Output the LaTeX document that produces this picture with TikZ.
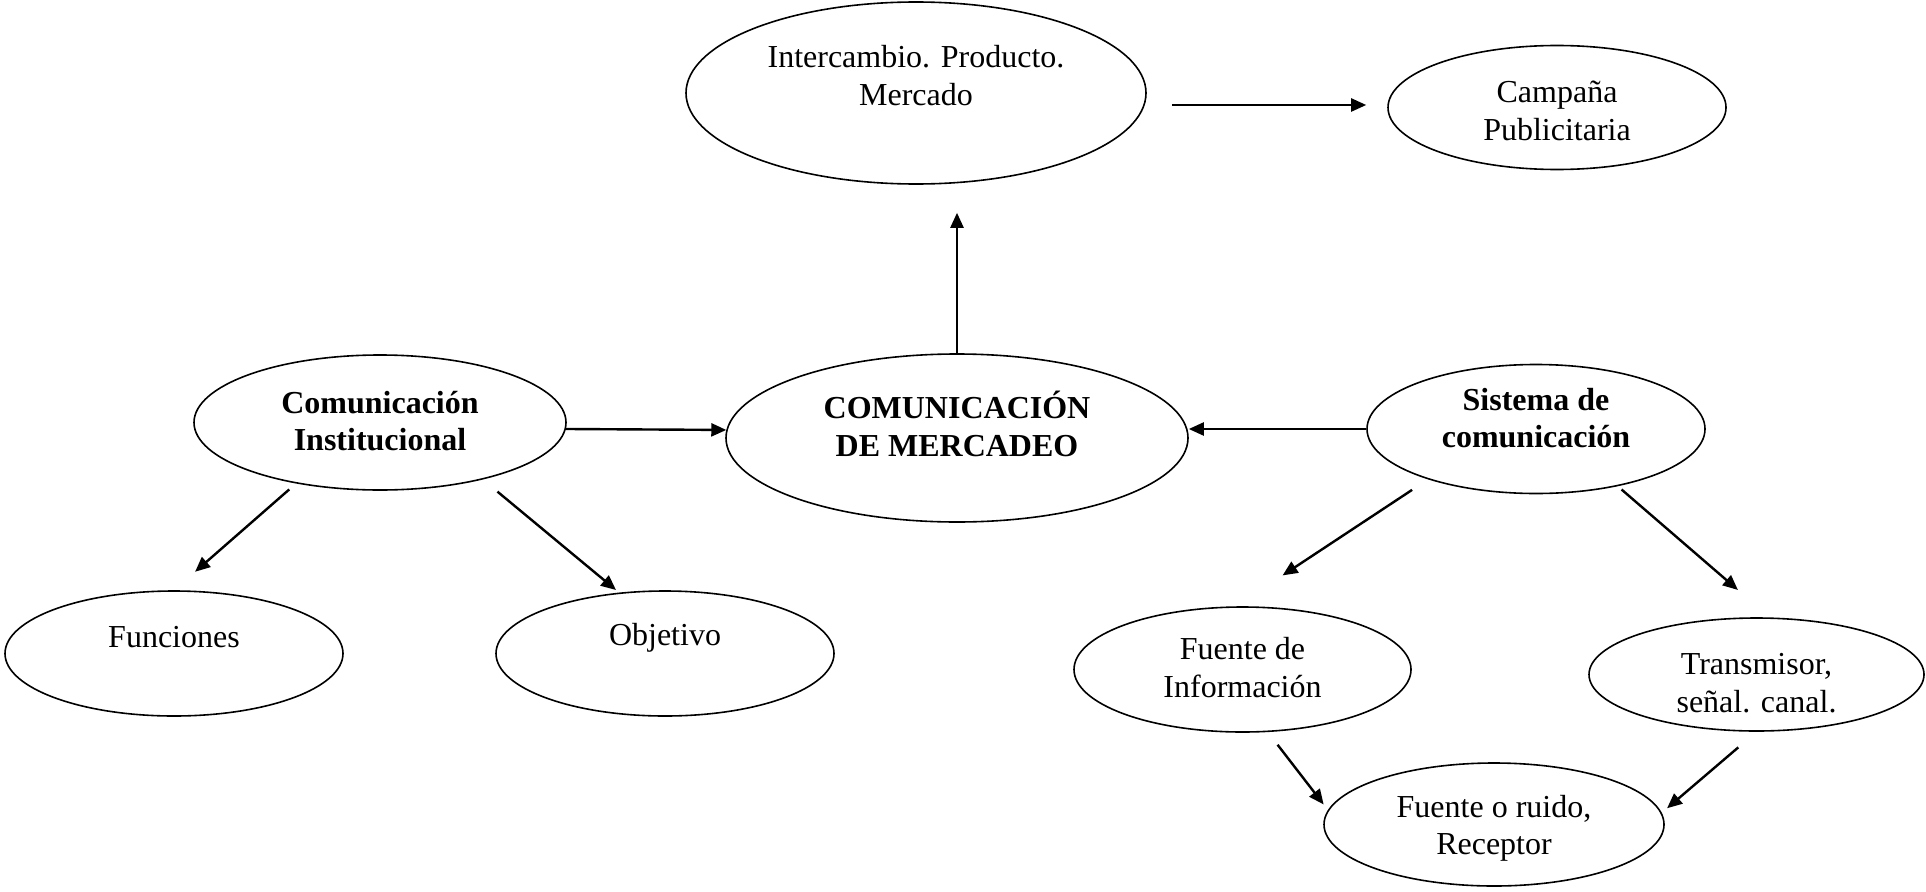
\documentclass[tikz,border=0pt]{standalone}
\usepackage{fontspec}
\setmainfont{Liberation Serif}
\usepackage{tikz}
\usetikzlibrary{arrows.meta,shapes.geometric}
\def\bubble[#1](#2,#3)(#4:#5)(#6)#7{%
  \node[bubble, minimum width=#4, minimum height=#5] (#1) at (#2,#3) {};
  \node[txt] (#1-t) at (#2,#6) {#7};}

\begin{document}
\begin{tikzpicture}[x=1pt, y=-1pt,
    bubble/.style={ellipse, draw, line width=1.6pt, inner sep=0pt},
    txt/.style={align=center, inner sep=0pt, font=\fontsize{32}{37.5}\selectfont},
    arr/.style={-{Triangle[length=15pt,width=13pt]}, line width=2.4pt}]
			%%%%% START %%%%%
			\useasboundingbox (0,0) rectangle (1926,891);
			
			% top row
			\bubble[inter](916,93)(460:182)(75.5){Intercambio. Producto.\\Mercado}
			\bubble[camp](1557,107.5)(338:124)(111){Campaña\\Publicitaria}
			
			% middle row
			\bubble[merc](957,438)(462:168)(424){\textbf{COMUNICACIÓN}\\\textbf{DE MERCADEO}}
			\bubble[inst](380,422.5)(372:135)(421){\textbf{Comunicación}\\\textbf{Institucional}}
			\bubble[sist](1536,429)(338:129)(418){\textbf{Sistema de}\\\textbf{comunicación}}
			
			% bottom rows
			\bubble[func](174,653.5)(338:125)(637.5){Funciones}
			\bubble[obj](665,653.5)(338:125)(637.5){Objetivo}
			\bubble[finfo](1242.5,669.5)(337:125)(667.6){Fuente de\\Información}
			\bubble[trans](1756.5,674.5)(335:113)(683){Transmisor,\\señal. canal.}
			\bubble[recep](1494,824.5)(340:123)(828.5){Fuente o ruido,\\Receptor}
			
			% arrows
			\draw[arr, shorten >=28] (merc.north) -- (merc.north |- inter.south);
			\draw[arr, shorten <=27, shorten >=21] (inter.-3) -- (camp.west |- inter.-3);
			\draw[arr] (inst.-2) -- (merc.178.5);
			\draw[arr] (sist.west) -- (sist.west -| merc.east);
			
			\draw[arr, shorten <=9, shorten >=28] (inst.-144) -- (func.north);
			\draw[arr, shorten <=19, shorten >=4] (inst.-29.6) -- (obj.127.8);
			\draw[arr, shorten <=19, shorten >=56] (sist.-155.2) -- (finfo.96);
			\draw[arr, shorten <=5, shorten >=42] (sist.-35.6) -- (trans.77.3);
			
			\draw[arr, shorten <=16, shorten >=7] (finfo.-68) -- (recep.175.3);
			\draw[arr, shorten <=24, shorten >=7] (trans.south) -- (recep.4.9);
			
			%%%%% END %%%%%
\end{tikzpicture}
\end{document}
